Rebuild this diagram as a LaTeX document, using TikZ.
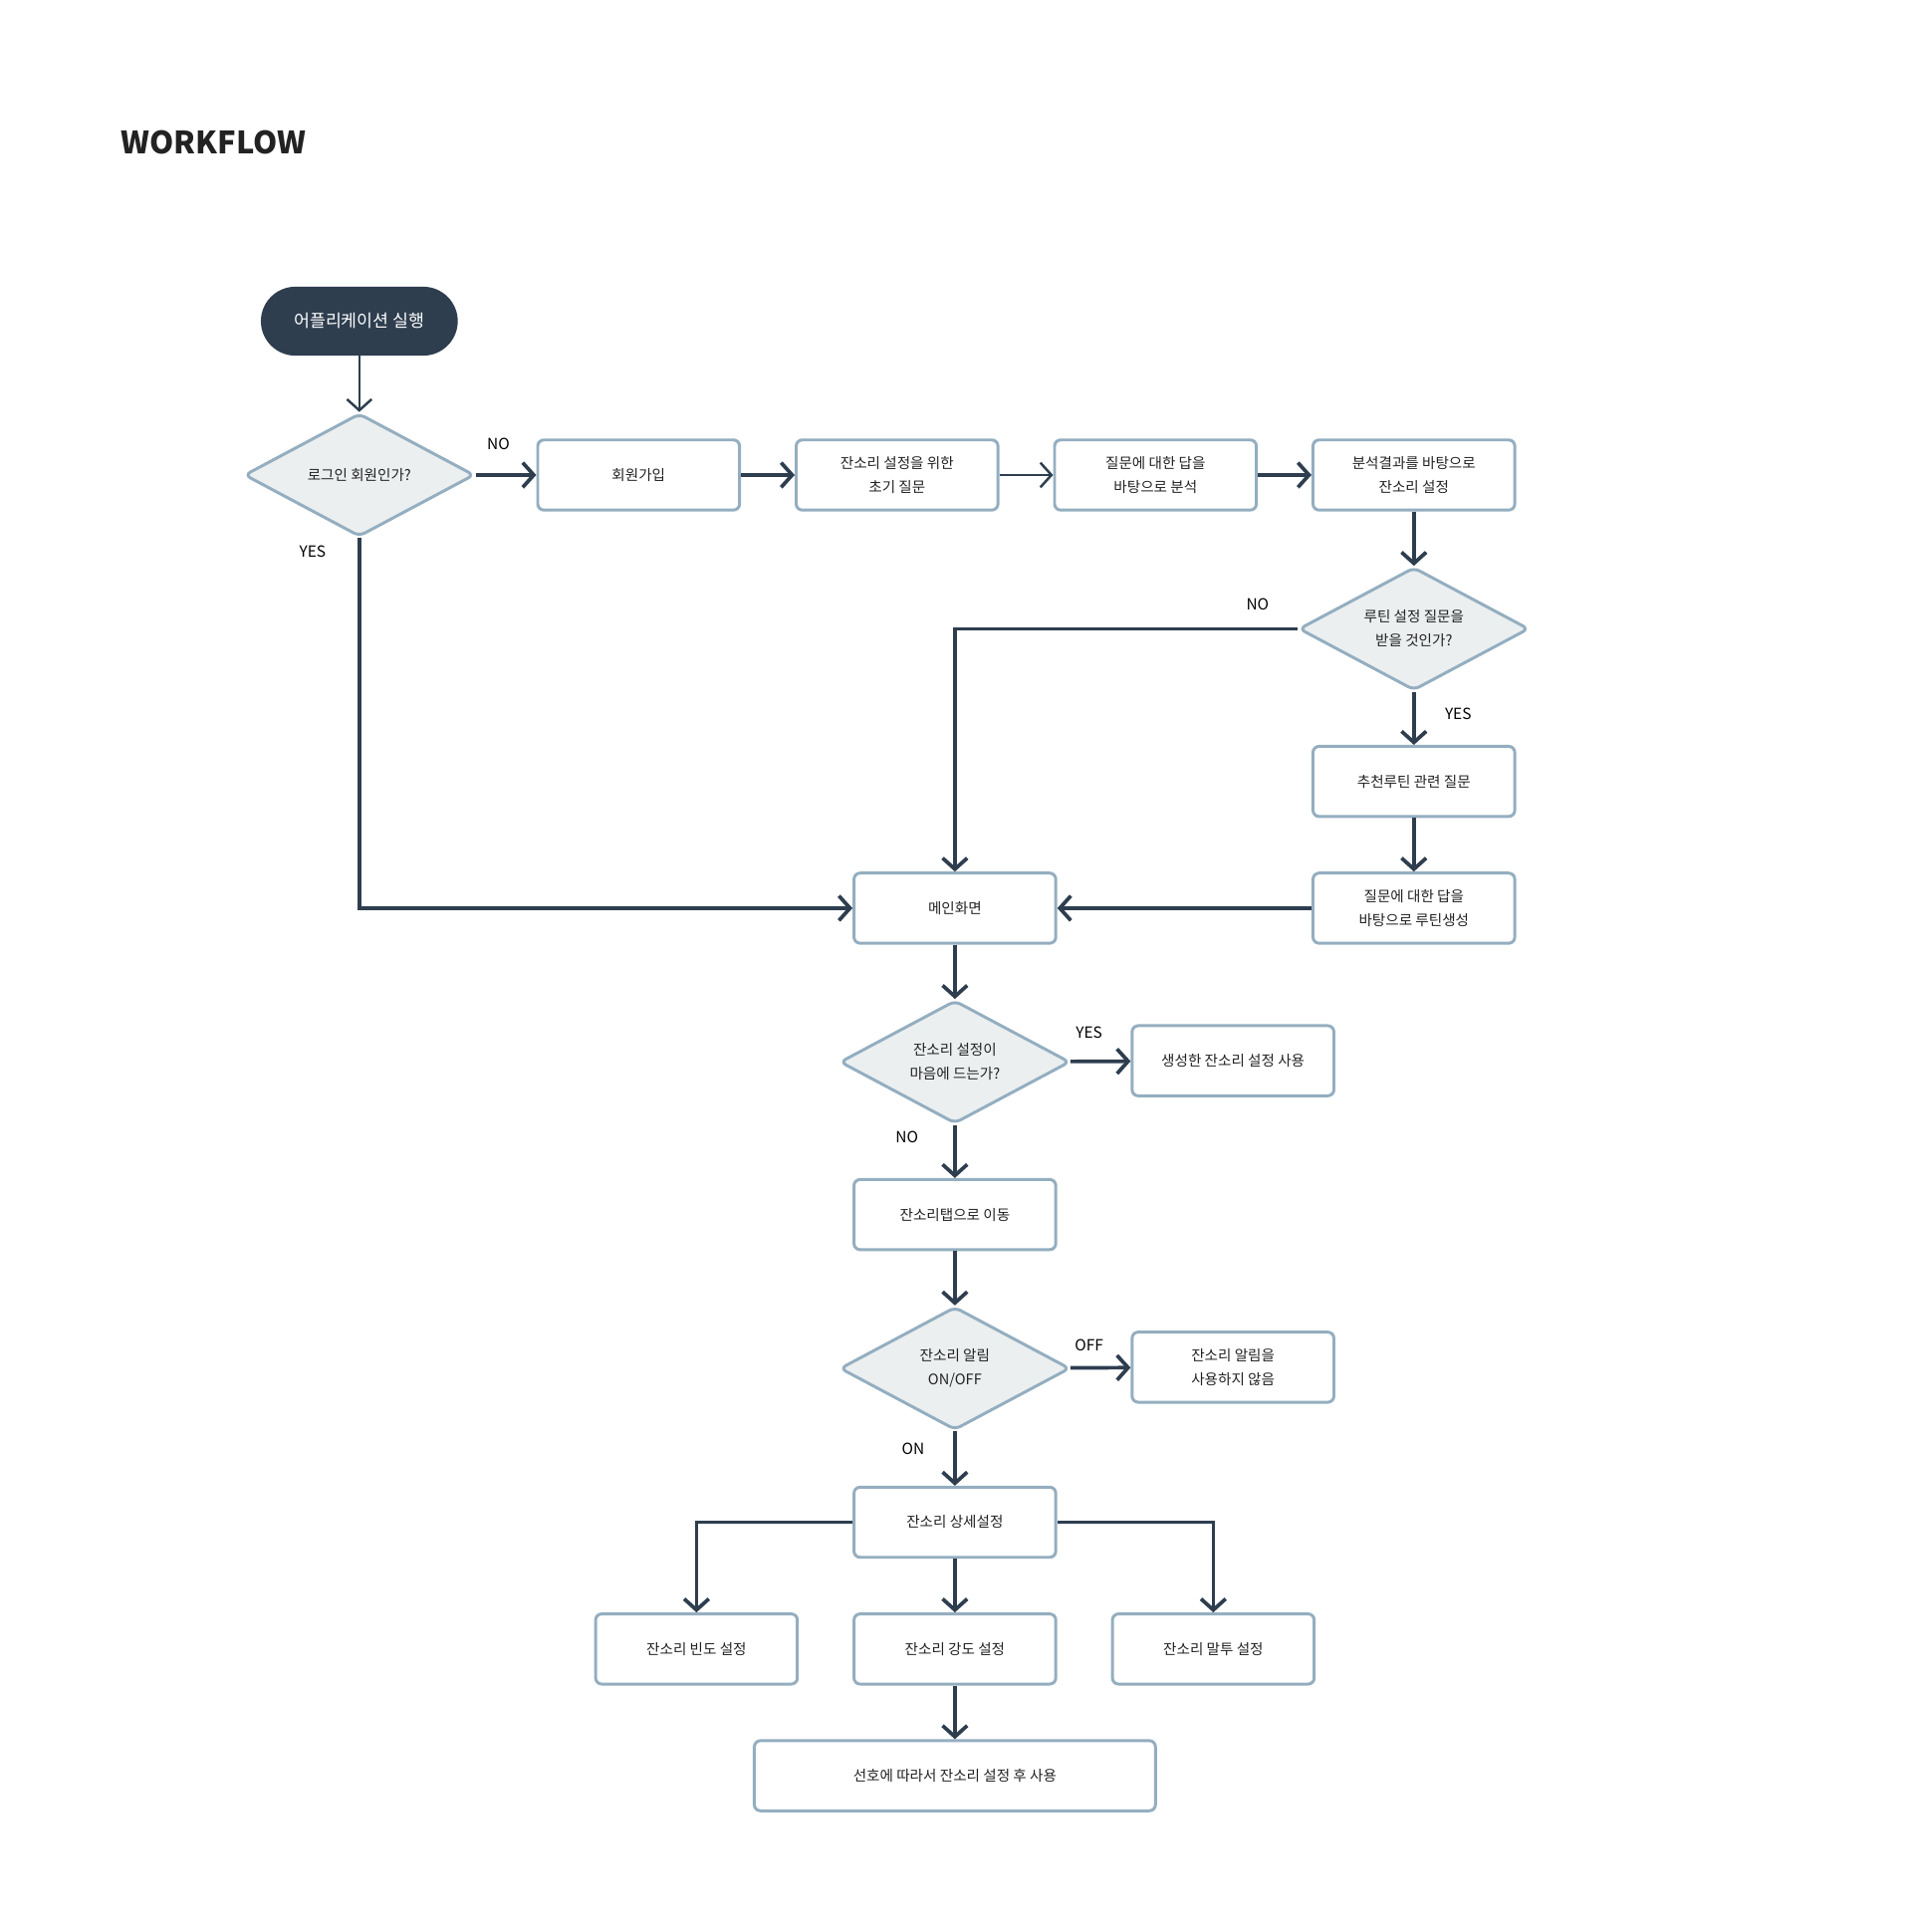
\documentclass[tikz,border=0pt]{standalone}
\usepackage{fontspec}
\setmainfont{Noto Sans CJK KR}
\usetikzlibrary{arrows.meta,shapes.geometric}
\definecolor{navy}{HTML}{2E3E4F}
\definecolor{rim}{HTML}{94AEC0}
\definecolor{pale}{HTML}{EBEFF0}
\definecolor{ink}{HTML}{222222}
\tikzstyle{startnode}=[rectangle,rounded corners=28pt,fill=navy,text=white,minimum width=160pt,minimum height=56pt,font=\fontsize{14}{16}\selectfont]
\tikzstyle{box}=[rectangle,rounded corners=5pt,draw=rim,line width=2.4pt,fill=white,minimum width=164pt,minimum height=57pt,inner sep=0pt,align=center,text=ink,font=\fontsize{11.8}{19.5}\selectfont]
\tikzstyle{widebox}=[box,minimum width=326pt]
\tikzstyle{decision}=[diamond,aspect=1.87,rounded corners=5pt,draw=rim,line width=2.4pt,fill=pale,minimum width=187pt,minimum height=100pt,inner sep=0pt,align=center,text=ink,font=\fontsize{11.8}{19.5}\selectfont]
\tikzstyle{flow}=[draw,navy,line width=3pt,-{Straight Barb[length=9pt,width=20pt]}]
\tikzstyle{thinflow}=[flow,line width=2pt]
\tikzstyle{answer}=[font=\fontsize{12.5}{14}\selectfont,text=black]

\begin{document}
\begin{tikzpicture}[x=1pt,y=-1pt]

    \useasboundingbox (0,0) rectangle (1553,1570);

    \node[anchor=west,font=\fontsize{25}{30}\selectfont\bfseries,text=ink] (title) at (95,116) {WORKFLOW};

    \node[startnode] (start) at (292,261) {어플리케이션 실행};

    % decisions
    \foreach \x/\y/\name/\txt in {292/386/d1/{로그인 회원인가?}, 1149/511/d2/{루틴 설정 질문을\\받을 것인가?},
        776/863/d3/{잔소리 설정이\\마음에 드는가?}, 776/1112/d4/{잔소리 알림\\ON/OFF}}
        \node[decision] (\name) at (\x,\y) {\txt};

    % boxes
    \foreach \x/\y/\name/\txt in {519/386/join/{회원가입}, 729/386/init/{잔소리 설정을 위한\\초기 질문},
        939/386/anal/{질문에 대한 답을\\바탕으로 분석}, 1149/386/setn/{분석결과를 바탕으로\\잔소리 설정},
        1149/635/rq/{추천루틴 관련 질문}, 1149/738/rgen/{질문에 대한 답을\\바탕으로 루틴생성},
        776/738/main/{메인화면}, 1002/862/use/{생성한 잔소리 설정 사용},
        776/987/tab/{잔소리탭으로 이동}, 1002/1111/off/{잔소리 알림을\\사용하지 않음},
        776/1237/detail/{잔소리 상세설정}, 566/1340/freq/{잔소리 빈도 설정},
        776/1340/inten/{잔소리 강도 설정}, 986/1340/tone/{잔소리 말투 설정}}
        \node[box] (\name) at (\x,\y) {\txt};

    \node[widebox] (final) at (776,1443) {선호에 따라서 잔소리 설정 후 사용};

    % answers
    \foreach \x/\y/\name/\txt in {405/361/a1/NO, 254/448/a2/YES, 1022/491/a3/NO, 1185/580/a4/YES,
        885/839/a5/YES, 737/924/a6/NO, 885/1093/a7/OFF, 742/1177/a8/ON}
        \node[answer] (\name) at (\x,\y) {\txt};

    \foreach \source/\dest in {start/d1, init/anal}
        \path[thinflow] (\source) -- (\dest);

    \foreach \source/\dest in {d1/join, join/init, anal/setn, setn/d2, d2/rq, rq/rgen, rgen/main,
        main/d3, d3/use, d3/tab, tab/d4, d4/off, d4/detail, detail/inten, inten/final}
        \path[flow] (\source) -- (\dest);

    \path[flow] (d1.south) |- (main.west);
    \path[flow] (d2.west) -| (main.north);
    \path[flow] (detail.west) -| (freq.north);
    \path[flow] (detail.east) -| (tone.north);

\end{tikzpicture}
\end{document}
